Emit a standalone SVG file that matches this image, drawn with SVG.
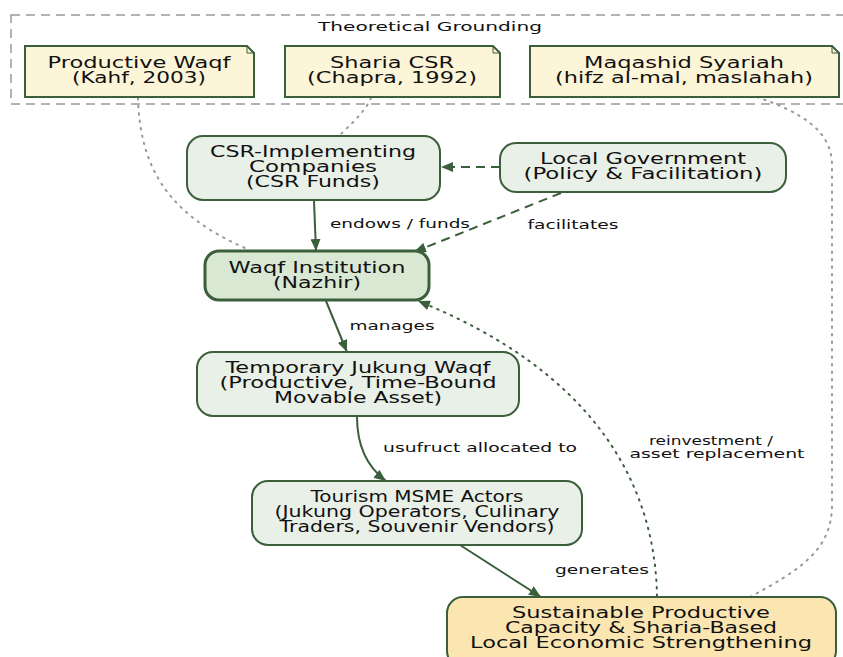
<svg xmlns="http://www.w3.org/2000/svg" width="843" height="657" viewBox="0 0 843 657">
<defs>
<style>
text{font-family:"DejaVu Sans","Liberation Sans",sans-serif;fill:#111;text-anchor:middle}
.n{font-size:15px}
.e{font-size:13px}
.box{fill:#e9f0e7;stroke:#3b5e3b;stroke-width:2}
.note{fill:#fdf5d8;stroke:#3b5e3b;stroke-width:2}
.edge{fill:none;stroke:#3b5e3b;stroke-width:2}
.dash{stroke-dasharray:9,6}
.gdot{fill:none;stroke:#999;stroke-width:2;stroke-dasharray:1.5,6;stroke-linecap:round}
.ddot{fill:none;stroke:#3b5e3b;stroke-width:2;stroke-dasharray:1.5,6;stroke-linecap:round}
</style>
<marker id="ah" markerUnits="userSpaceOnUse" markerWidth="13" markerHeight="10" refX="12" refY="5" orient="auto">
<path d="M0,0 L12,5 L0,10 z" fill="#3b5e3b"/>
</marker>
</defs>

<g id="cluster">
<rect x="11" y="15" width="860" height="89" fill="none" stroke="#999" stroke-width="1.5" stroke-dasharray="9,6"/>
<text x="430" y="31" style="font-size:13px" textLength="224" lengthAdjust="spacingAndGlyphs">Theoretical Grounding</text>
</g>

<g id="connectors">
<path class="gdot" d="M138,98 C140,170 170,215 245,248"/>
<path class="gdot" d="M371,98 C365,112 350,125 340,135"/>
<path class="gdot" d="M757,97 C800,112 832,130 832,165 L832,505 C832,550 800,570 750,597"/>
<path class="edge" d="M314,201 L316,251" marker-end="url(#ah)"/>
<path class="edge dash" d="M500,167 L441,167" marker-end="url(#ah)"/>
<path class="edge dash" d="M561,193 L414,252" marker-end="url(#ah)"/>
<path class="edge" d="M326,301 L347,352" marker-end="url(#ah)"/>
<path class="edge" d="M357,417 C357,445 366,466 386,481" marker-end="url(#ah)"/>
<path class="edge" d="M460,545 L541,597" marker-end="url(#ah)"/>
<path class="ddot" d="M657,596 C655,480 590,370 418,301" marker-end="url(#ah)"/>
<text class="e" x="400" y="228" textLength="140" lengthAdjust="spacingAndGlyphs">endows / funds</text>
<text class="e" x="573" y="229" textLength="91" lengthAdjust="spacingAndGlyphs">facilitates</text>
<text class="e" x="392" y="330" textLength="85" lengthAdjust="spacingAndGlyphs">manages</text>
<text class="e" x="480" y="452" textLength="194" lengthAdjust="spacingAndGlyphs">usufruct allocated to</text>
<text class="e" x="711" y="445" textLength="124" lengthAdjust="spacingAndGlyphs">reinvestment /</text>
<text class="e" x="717" y="458" textLength="175" lengthAdjust="spacingAndGlyphs">asset replacement</text>
<text class="e" x="602" y="574" textLength="94" lengthAdjust="spacingAndGlyphs">generates</text>
</g>

<g id="note-productive-waqf">
<path class="note" d="M25,46 L247,46 L254,53 L254,97 L25,97 Z"/>
<path d="M247,46 L247,53 L254,53" fill="none" stroke="#3b5e3b" stroke-width="1"/>
<text class="n" x="139" y="68" textLength="183" lengthAdjust="spacingAndGlyphs">Productive Waqf</text>
<text class="n" x="139" y="83" textLength="134" lengthAdjust="spacingAndGlyphs">(Kahf, 2003)</text>
</g>

<g id="note-sharia-csr">
<path class="note" d="M285,46 L493,46 L500,53 L500,97 L285,97 Z"/>
<path d="M493,46 L493,53 L500,53" fill="none" stroke="#3b5e3b" stroke-width="1"/>
<text class="n" x="392" y="68" textLength="124" lengthAdjust="spacingAndGlyphs">Sharia CSR</text>
<text class="n" x="392" y="83" textLength="170" lengthAdjust="spacingAndGlyphs">(Chapra, 1992)</text>
</g>

<g id="note-maqashid">
<path class="note" d="M530,46 L832,46 L839,53 L839,97 L530,97 Z"/>
<path d="M832,46 L832,53 L839,53" fill="none" stroke="#3b5e3b" stroke-width="1"/>
<text class="n" x="684" y="68" textLength="200" lengthAdjust="spacingAndGlyphs">Maqashid Syariah</text>
<text class="n" x="684" y="83" textLength="258" lengthAdjust="spacingAndGlyphs">(hifz al-mal, maslahah)</text>
</g>

<g id="csr-companies">
<rect class="box" x="187" y="136" width="253" height="64" rx="16"/>
<text class="n" x="313" y="157" textLength="206" lengthAdjust="spacingAndGlyphs">CSR-Implementing</text>
<text class="n" x="313" y="172" textLength="128" lengthAdjust="spacingAndGlyphs">Companies</text>
<text class="n" x="313" y="187" textLength="134" lengthAdjust="spacingAndGlyphs">(CSR Funds)</text>
</g>

<g id="local-government">
<rect class="box" x="500" y="143" width="286" height="49" rx="16"/>
<text class="n" x="643" y="164" textLength="206" lengthAdjust="spacingAndGlyphs">Local Government</text>
<text class="n" x="643" y="179" textLength="239" lengthAdjust="spacingAndGlyphs">(Policy &amp; Facilitation)</text>
</g>

<g id="waqf-institution">
<rect x="205" y="251" width="224" height="49" rx="14" fill="#d8e8d3" stroke="#3b5e3b" stroke-width="3"/>
<text class="n" x="317" y="273" textLength="177" lengthAdjust="spacingAndGlyphs">Waqf Institution</text>
<text class="n" x="317" y="288" textLength="88" lengthAdjust="spacingAndGlyphs">(Nazhir)</text>
</g>

<g id="temporary-jukung-waqf">
<rect class="box" x="197" y="352" width="322" height="64" rx="16"/>
<text class="n" x="358" y="373" textLength="265" lengthAdjust="spacingAndGlyphs">Temporary Jukung Waqf</text>
<text class="n" x="358" y="388" textLength="277" lengthAdjust="spacingAndGlyphs">(Productive, Time-Bound</text>
<text class="n" x="358" y="403" textLength="168" lengthAdjust="spacingAndGlyphs">Movable Asset)</text>
</g>

<g id="tourism-msme">
<rect class="box" x="252" y="481" width="330" height="64" rx="16"/>
<text class="n" x="417" y="502" textLength="213" lengthAdjust="spacingAndGlyphs">Tourism MSME Actors</text>
<text class="n" x="417" y="517" textLength="285" lengthAdjust="spacingAndGlyphs">(Jukung Operators, Culinary</text>
<text class="n" x="417" y="532" textLength="275" lengthAdjust="spacingAndGlyphs">Traders, Souvenir Vendors)</text>
</g>

<g id="sustainable-capacity">
<rect x="447" y="597" width="389" height="70" rx="16" fill="#fbe6b1" stroke="#3b5e3b" stroke-width="2"/>
<text class="n" x="641" y="618" textLength="258" lengthAdjust="spacingAndGlyphs">Sustainable Productive</text>
<text class="n" x="641" y="633" textLength="272" lengthAdjust="spacingAndGlyphs">Capacity &amp; Sharia-Based</text>
<text class="n" x="641" y="648" textLength="342" lengthAdjust="spacingAndGlyphs">Local Economic Strengthening</text>
</g>
</svg>
